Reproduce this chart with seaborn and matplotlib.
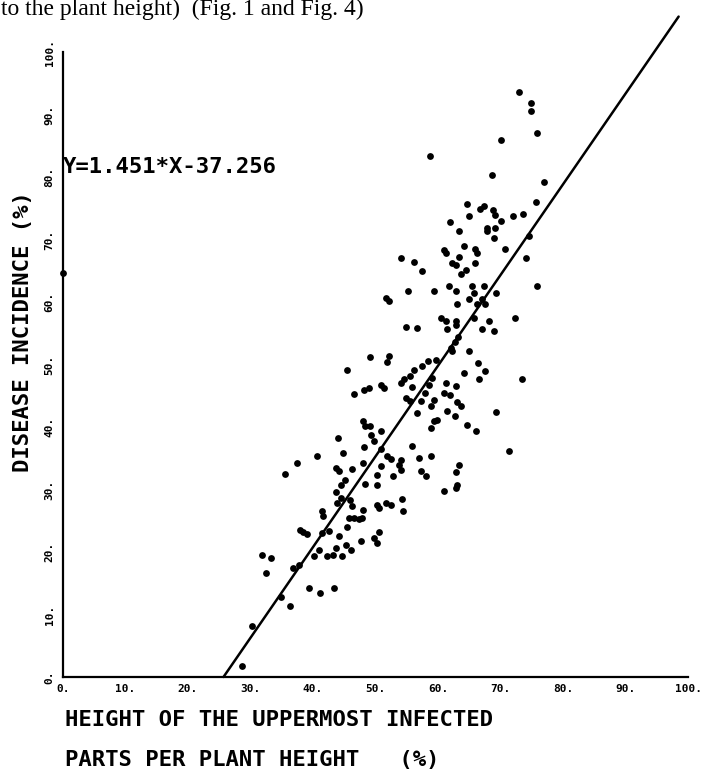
import pandas as pd
import matplotlib
matplotlib.use('Agg')
import matplotlib.pyplot as plt
import seaborn as sns

# Regression line from the figure: Y = 1.451*X - 37.256
slope = 1.451
intercept = -37.256
line_x_start = 25.68
line_x_end = 98.5

# Scatter points
height_pct = [
    72.96, 74.9, 74.9, 75.9, 70.1, 58.7, 68.6, 77.0, 75.7, 64.7, 66.7, 67.3,
    68.8, 69.1, 64.9, 72.0, 73.6, 70.1, 61.9, 67.8, 69.1, 63.4, 67.8,
    68.9, 74.6, 70.7, 64.2, 60.9, 61.3, 65.9, 66.2, 63.4, 74.1, 54.1, 56.1,
    62.3, 62.8, 65.9, 64.4, 57.5, 63.7, 61.7, 65.4, 62.9, 59.3, 55.2, 67.3,
    65.7, 69.3, 75.9, 65.0, 67.0, 51.7, 52.2, 63.1, 66.2, 67.6, 60.4, 61.2,
    62.8, 62.9, 65.7, 68.1, 72.3, 61.5, 67.0, 68.9, 54.8, 56.6, 63.2, 62.7,
    62.1, 62.3, 65.0, 49.1, 52.1, 51.8, 45.5, 56.2, 57.5, 58.4, 59.7, 66.4,
    64.2, 67.5, 54.6, 55.5, 59.0, 66.5, 73.4,
    46.5, 48.1, 48.9, 50.9, 51.3, 54.1, 55.9, 58.6, 61.3, 62.8, 57.9, 61.0,
    61.9, 54.8, 55.5, 57.3, 59.3, 58.8, 63.1, 63.6, 61.5, 56.6, 62.7, 69.2,
    59.3, 59.9, 58.8, 64.7, 66.1, 48.0, 48.3, 49.1, 50.9, 49.2, 44.0, 49.7,
    48.1, 50.8, 55.9, 44.8, 40.7, 51.8, 52.4, 54.0, 57.0, 58.9, 71.4, 37.4,
    35.5, 43.7, 44.1, 46.2, 48.0, 50.8, 53.8, 54.1, 57.3, 58.1, 63.3, 62.9,
    50.3, 52.8, 45.1, 44.5, 48.3, 50.3, 63.0, 62.9, 60.9, 43.7, 44.4, 43.8,
    45.9, 46.3, 48.0, 50.3, 50.6, 51.6, 52.5, 54.2, 54.4, 41.4, 41.6, 45.7,
    46.5, 47.3, 47.8,
    37.9, 38.4, 39.1, 41.4, 42.5, 45.4, 44.1, 50.6, 49.8, 50.2, 47.6, 45.2,
    43.7, 41.0, 46.1, 40.2, 42.3, 43.2, 44.7, 31.9, 33.2, 36.8, 37.8, 32.4,
    39.4, 41.1, 43.4, 34.8, 36.3, 30.2, 28.6,
    0.0,
]
incidence_pct = [
    93.6, 91.8, 90.6, 87.1, 86.0, 83.4, 80.3, 79.2, 76.0, 75.7, 74.9, 75.4,
    74.7, 74.0, 73.8, 73.8, 74.1, 73.0, 72.8, 71.9, 71.9, 71.4, 71.3,
    70.2, 70.6, 68.4, 69.0, 68.3, 67.8, 68.5, 67.9, 67.2, 67.0, 67.1, 66.4,
    66.3, 66.0, 66.3, 65.2, 65.0, 64.4, 62.6, 62.6, 61.8, 61.8, 61.8, 62.6,
    61.4, 61.4, 62.6, 60.5, 60.5, 60.7, 60.2, 59.7, 59.7, 59.7, 57.5, 57.0,
    57.0, 56.3, 57.5, 57.0, 57.4, 55.7, 55.7, 55.4, 56.0, 55.9, 54.4, 53.6,
    52.6, 52.1, 52.1, 51.2, 51.3, 50.4, 49.2, 49.2, 49.8, 50.6, 50.7, 50.3,
    48.7, 48.9, 47.7, 48.1, 47.8, 47.7, 47.7,
    45.3, 45.9, 46.3, 46.7, 46.3, 47.0, 46.4, 46.7, 47.0, 46.6, 45.5, 45.4,
    45.2, 44.7, 44.2, 44.2, 44.4, 43.4, 44.0, 43.4, 42.6, 42.2, 41.7, 42.4,
    41.0, 41.1, 39.9, 40.4, 39.4, 41.0, 40.2, 40.2, 39.4, 38.8, 38.3, 37.7,
    36.8, 36.5, 37.0, 35.8, 35.3, 35.3, 34.9, 34.7, 35.1, 35.3, 36.1, 34.2,
    32.5, 33.5, 33.0, 33.3, 34.2, 33.8, 33.9, 33.1, 33.0, 32.2, 34.0, 32.8,
    32.4, 32.2, 31.6, 30.8, 30.9, 30.8, 30.8, 30.3, 29.7, 29.6, 28.7, 27.8,
    28.3, 27.4, 26.7, 27.5, 27.1, 27.9, 27.5, 28.5, 26.6, 26.5, 25.7, 25.5,
    25.4, 25.3, 25.4,
    23.5, 23.2, 22.9, 23.0, 23.3, 24.0, 22.5, 23.2, 22.2, 21.5, 21.8, 21.2,
    20.7, 20.4, 20.4, 19.4, 19.4, 19.6, 19.4, 19.6, 19.1, 17.5, 17.9, 16.6,
    14.3, 13.5, 14.2, 12.8, 11.3, 8.2, 1.8,
    64.6,
]

ticks = [0, 10, 20, 30, 40, 50, 60, 70, 80, 90, 100]
tick_labels = ['0.', '10.', '20.', '30.', '40.', '50.', '60.', '70.', '80.', '90.', '100.']

df = pd.DataFrame({'height': height_pct, 'incidence': incidence_pct})
line_df = pd.DataFrame({'x': [line_x_start, line_x_end]})
line_df['y'] = slope * line_df['x'] + intercept

sns.set_style('white')
plt.rcParams['font.family'] = ['DejaVu Sans Mono']
plt.rcParams['text.color'] = 'black'

W, H = 702, 774
fig = plt.figure(figsize=(W / 100, H / 100), dpi=100)
ax = fig.add_axes([63 / W, 1 - 677 / H, 625 / W, 625 / H])

sns.scatterplot(data=df, x='height', y='incidence', color='black', s=24,
                linewidth=0, ax=ax, clip_on=False)
sns.lineplot(data=line_df, x='x', y='y', color='black', linewidth=1.8, ax=ax)
ax.lines[-1].set_clip_on(False)

ax.set_xlim(0, 100)
ax.set_ylim(0, 100)
ax.set_xlabel('')
ax.set_ylabel('')
sns.despine(ax=ax)
for side in ['left', 'bottom']:
    ax.spines[side].set_linewidth(1.6)
    ax.spines[side].set_color('black')

ax.set_xticks(ticks)
ax.set_xticklabels(tick_labels, fontsize=8, fontweight='bold')
ax.set_yticks(ticks)
ax.set_yticklabels(tick_labels, fontsize=8, fontweight='bold', rotation=90, va='center')
ax.tick_params(axis='x', direction='out', length=3, width=1.4, pad=2,
               colors='black', labelcolor='black')
ax.tick_params(axis='y', direction='out', length=5, width=1.4, pad=1,
               colors='black', labelcolor='black')

# equation label next to the y axis
ax.text(0, 81.6, 'Y=1.451*X-37.256', fontsize=16, fontweight='bold',
        color='black', ha='left', va='center')

# axis titles (plotter style)
fig.text(23 / W, 1 - 332 / H, 'DISEASE INCIDENCE (%)', fontsize=16, fontweight='bold',
         color='black', rotation=90, ha='center', va='center')
fig.text(65 / W, 1 - 720 / H, 'HEIGHT OF THE UPPERMOST INFECTED', fontsize=16,
         fontweight='bold', color='black', ha='left', va='center')
fig.text(65 / W, 1 - 760 / H, 'PARTS PER PLANT HEIGHT   (%)', fontsize=16,
         fontweight='bold', color='black', ha='left', va='center')

# line of the page text above the figure
fig.text(0.002, 1 - 15 / H, 'to the plant height)  (Fig. 1 and Fig. 4)',
         family='Liberation Serif', fontsize=17, color='black',
         ha='left', va='baseline')

fig.savefig('out.png', dpi=100)
